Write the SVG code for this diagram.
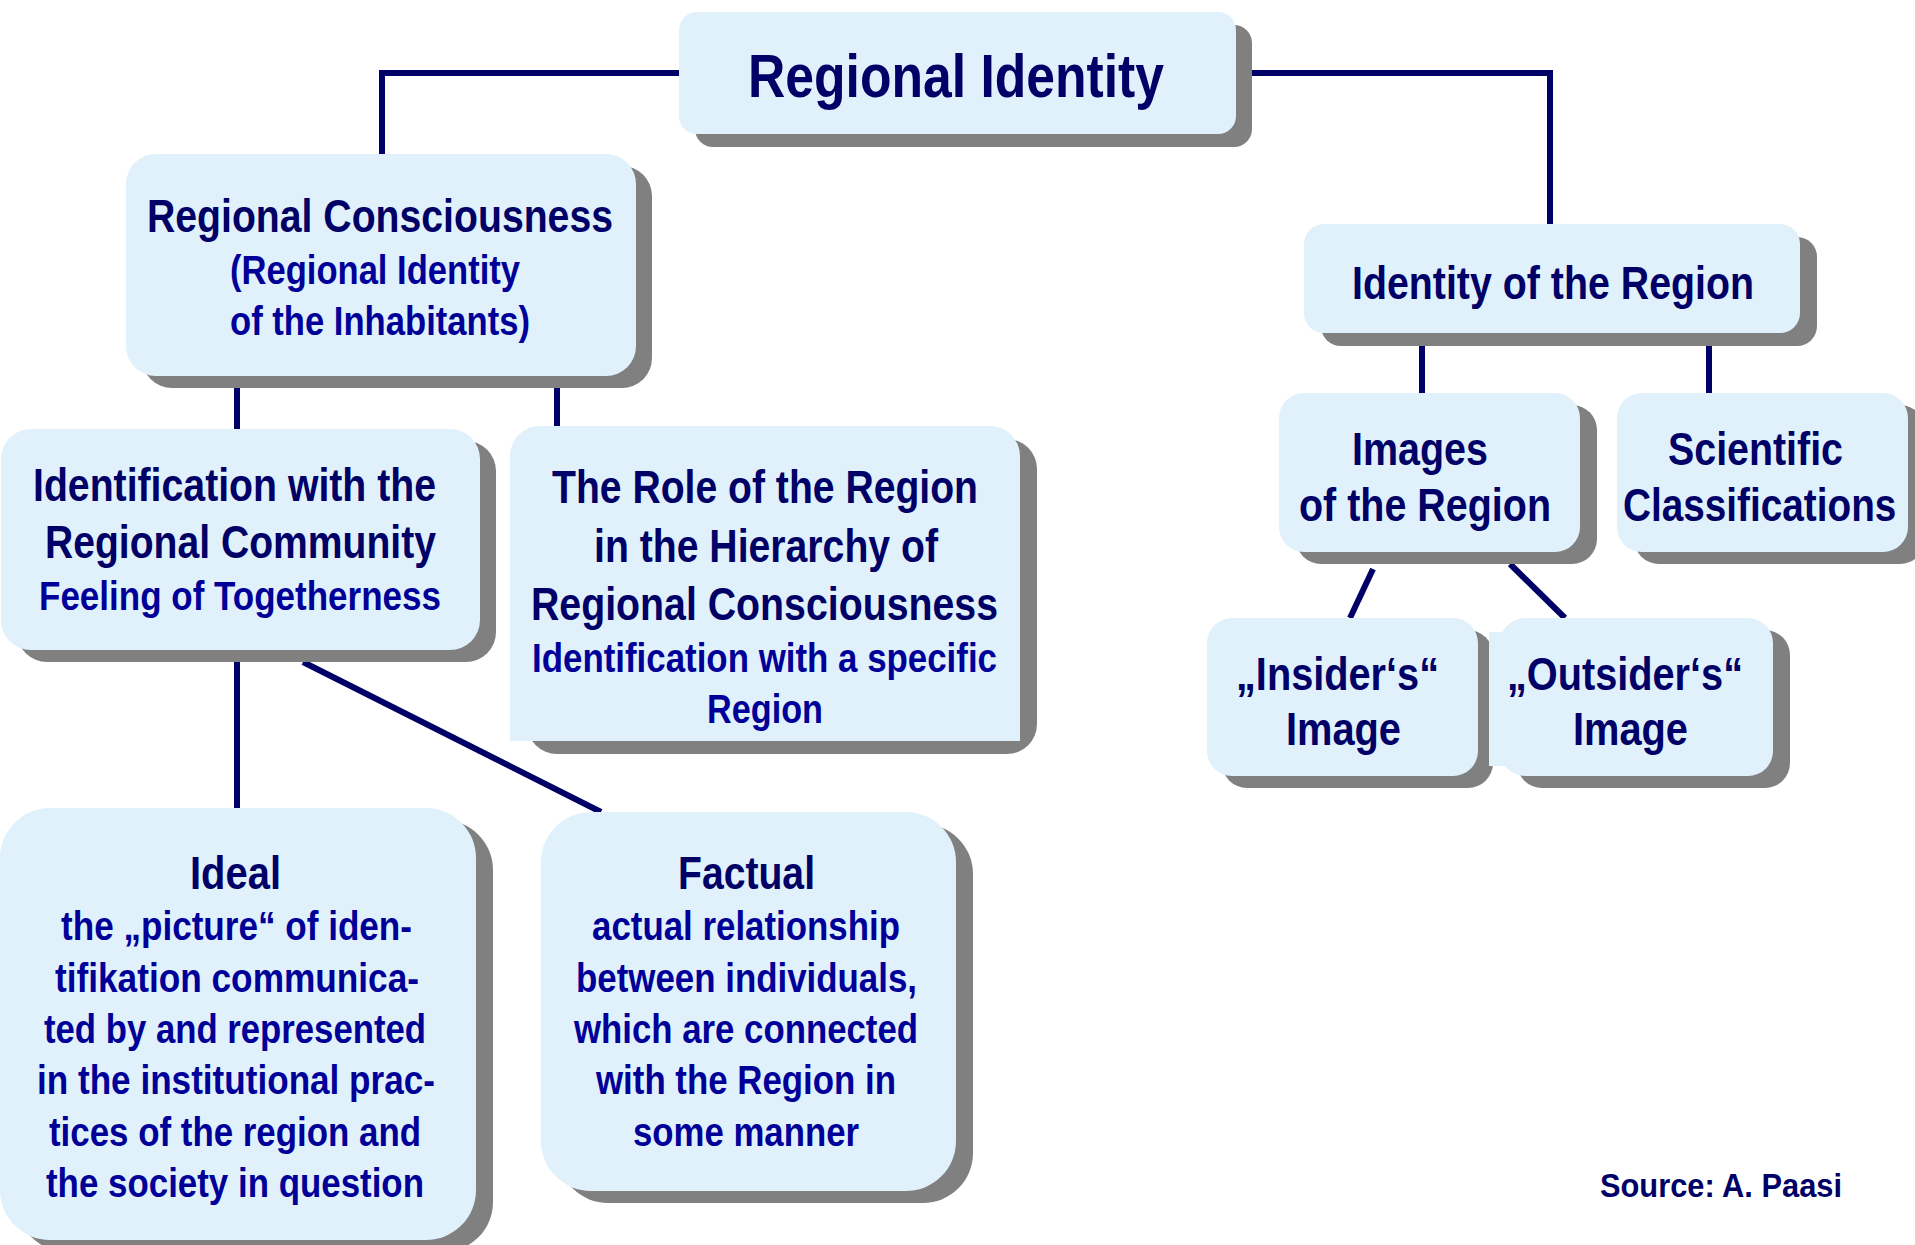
<svg xmlns="http://www.w3.org/2000/svg" width="1915" height="1245" viewBox="0 0 1915 1245">
<style>
.face{fill:#E0F1FC}
.sh{fill:#808080}
.h{font-family:"Liberation Sans",Arial,sans-serif;font-weight:bold;fill:#000066}
.s{font-family:"Liberation Sans",Arial,sans-serif;font-weight:bold;fill:#000099}
.conn{stroke:#000066;stroke-width:6;fill:none}
</style>
<rect width="1915" height="1245" fill="#FFFFFF"/>
<g id="connectors" class="conn">
<path d="M382 154 V73 H1550 V224"/>
<path d="M237 376 V429"/>
<path d="M557 376 V426"/>
<path d="M1422 333 V393"/>
<path d="M1709 333 V393"/>
<path d="M1373 569 L1350 618"/>
<path d="M1510 564 L1565 618"/>
<path d="M237 650 V808"/>
<path d="M303 662 L601 812"/>
</g>
<g id="n-regional-identity">
<rect class="sh" x="695" y="25" width="557" height="122" rx="18"/>
<rect class="face" x="679" y="12" width="557" height="122" rx="18"/>
<text class="h" x="748" y="97" font-size="62" textLength="416" lengthAdjust="spacingAndGlyphs">Regional Identity</text>
</g>
<g id="n-regional-consciousness">
<rect class="sh" x="142" y="166" width="510" height="222" rx="30"/>
<rect class="face" x="126" y="154" width="510" height="222" rx="30"/>
<text class="h" x="147" y="232" font-size="46" textLength="466" lengthAdjust="spacingAndGlyphs">Regional Consciousness</text>
<text class="s" x="230" y="284" font-size="40" textLength="290" lengthAdjust="spacingAndGlyphs">(Regional Identity</text>
<text class="s" x="230" y="335" font-size="40" textLength="300" lengthAdjust="spacingAndGlyphs">of the Inhabitants)</text>
</g>
<g id="n-identification">
<rect class="sh" x="17" y="441" width="479" height="221" rx="30"/>
<rect class="face" x="1" y="429" width="479" height="221" rx="30"/>
<text class="h" x="33" y="501" font-size="46" textLength="403" lengthAdjust="spacingAndGlyphs">Identification with the</text>
<text class="h" x="45" y="558" font-size="46" textLength="391" lengthAdjust="spacingAndGlyphs">Regional Community</text>
<text class="s" x="39" y="610" font-size="40" textLength="402" lengthAdjust="spacingAndGlyphs">Feeling of Togetherness</text>
</g>
<g id="n-role">
<rect class="sh" x="527" y="439" width="510" height="315" rx="30"/>
<path class="face" d="M540 426 H990 A30 30 0 0 1 1020 456 V741 H510 V456 A30 30 0 0 1 540 426 Z"/>
<text class="h" x="552" y="503" font-size="46" textLength="426" lengthAdjust="spacingAndGlyphs">The Role of the Region</text>
<text class="h" x="594" y="562" font-size="46" textLength="344" lengthAdjust="spacingAndGlyphs">in the Hierarchy of</text>
<text class="h" x="531" y="620" font-size="46" textLength="467" lengthAdjust="spacingAndGlyphs">Regional Consciousness</text>
<text class="s" x="532" y="672" font-size="40" textLength="465" lengthAdjust="spacingAndGlyphs">Identification with a specific</text>
<text class="s" x="707" y="723" font-size="40" textLength="116" lengthAdjust="spacingAndGlyphs">Region</text>
</g>
<g id="n-identity-region">
<rect class="sh" x="1321" y="237" width="496" height="109" rx="20"/>
<rect class="face" x="1304" y="224" width="496" height="109" rx="20"/>
<text class="h" x="1352" y="299" font-size="46" textLength="402" lengthAdjust="spacingAndGlyphs">Identity of the Region</text>
</g>
<g id="n-images">
<rect class="sh" x="1296" y="405" width="301" height="159" rx="25"/>
<rect class="face" x="1279" y="393" width="301" height="159" rx="25"/>
<text class="h" x="1352" y="465" font-size="46" textLength="136" lengthAdjust="spacingAndGlyphs">Images</text>
<text class="h" x="1299" y="521" font-size="46" textLength="252" lengthAdjust="spacingAndGlyphs">of the Region</text>
</g>
<g id="n-scientific">
<rect class="sh" x="1634" y="405" width="291" height="159" rx="25"/>
<rect class="face" x="1617" y="393" width="291" height="159" rx="25"/>
<text class="h" x="1668" y="465" font-size="46" textLength="175" lengthAdjust="spacingAndGlyphs">Scientific</text>
<text class="h" transform="translate(1623 521) scale(0.842 1)" x="0" y="0" font-size="46">Classifications</text>
</g>
<g id="n-insider">
<rect class="sh" x="1222" y="630" width="271" height="158" rx="25"/>
<rect class="face" x="1207" y="618" width="271" height="158" rx="25"/>
<text class="h" x="1236" y="690" font-size="46" textLength="203" lengthAdjust="spacingAndGlyphs">„Insider‘s“</text>
<text class="h" x="1286" y="745" font-size="46" textLength="115" lengthAdjust="spacingAndGlyphs">Image</text>
</g>
<g id="n-outsider">
<rect class="sh" x="1517" y="630" width="273" height="158" rx="25"/>
<rect class="face" x="1489" y="632" width="40" height="134"/>
<rect class="face" x="1500" y="618" width="273" height="158" rx="25"/>
<text class="h" x="1507" y="690" font-size="46" textLength="236" lengthAdjust="spacingAndGlyphs">„Outsider‘s“</text>
<text class="h" x="1573" y="745" font-size="46" textLength="115" lengthAdjust="spacingAndGlyphs">Image</text>
</g>
<g id="n-ideal">
<rect class="sh" x="17" y="820" width="476" height="432" rx="50"/>
<rect class="face" x="0" y="808" width="476" height="432" rx="50"/>
<text class="h" x="190" y="889" font-size="46" textLength="91" lengthAdjust="spacingAndGlyphs">Ideal</text>
<text class="s" x="61" y="940" font-size="40" textLength="351" lengthAdjust="spacingAndGlyphs">the „picture“ of iden-</text>
<text class="s" x="55" y="992" font-size="40" textLength="364" lengthAdjust="spacingAndGlyphs">tifikation communica-</text>
<text class="s" x="44" y="1043" font-size="40" textLength="382" lengthAdjust="spacingAndGlyphs">ted by and represented</text>
<text class="s" x="37" y="1094" font-size="40" textLength="398" lengthAdjust="spacingAndGlyphs">in the institutional prac-</text>
<text class="s" x="49" y="1146" font-size="40" textLength="372" lengthAdjust="spacingAndGlyphs">tices of the region and</text>
<text class="s" x="46" y="1197" font-size="40" textLength="378" lengthAdjust="spacingAndGlyphs">the society in question</text>
</g>
<g id="n-factual">
<rect class="sh" x="558" y="824" width="415" height="379" rx="50"/>
<rect class="face" x="541" y="812" width="415" height="379" rx="50"/>
<text class="h" x="678" y="889" font-size="46" textLength="137" lengthAdjust="spacingAndGlyphs">Factual</text>
<text class="s" x="592" y="940" font-size="40" textLength="308" lengthAdjust="spacingAndGlyphs">actual relationship</text>
<text class="s" x="576" y="992" font-size="40" textLength="341" lengthAdjust="spacingAndGlyphs">between individuals,</text>
<text class="s" x="574" y="1043" font-size="40" textLength="344" lengthAdjust="spacingAndGlyphs">which are connected</text>
<text class="s" x="596" y="1094" font-size="40" textLength="300" lengthAdjust="spacingAndGlyphs">with the Region in</text>
<text class="s" x="633" y="1146" font-size="40" textLength="226" lengthAdjust="spacingAndGlyphs">some manner</text>
</g>
<g id="source">
<text class="h" x="1600" y="1197" font-size="34" textLength="242" lengthAdjust="spacingAndGlyphs">Source: A. Paasi</text>
</g>
</svg>
